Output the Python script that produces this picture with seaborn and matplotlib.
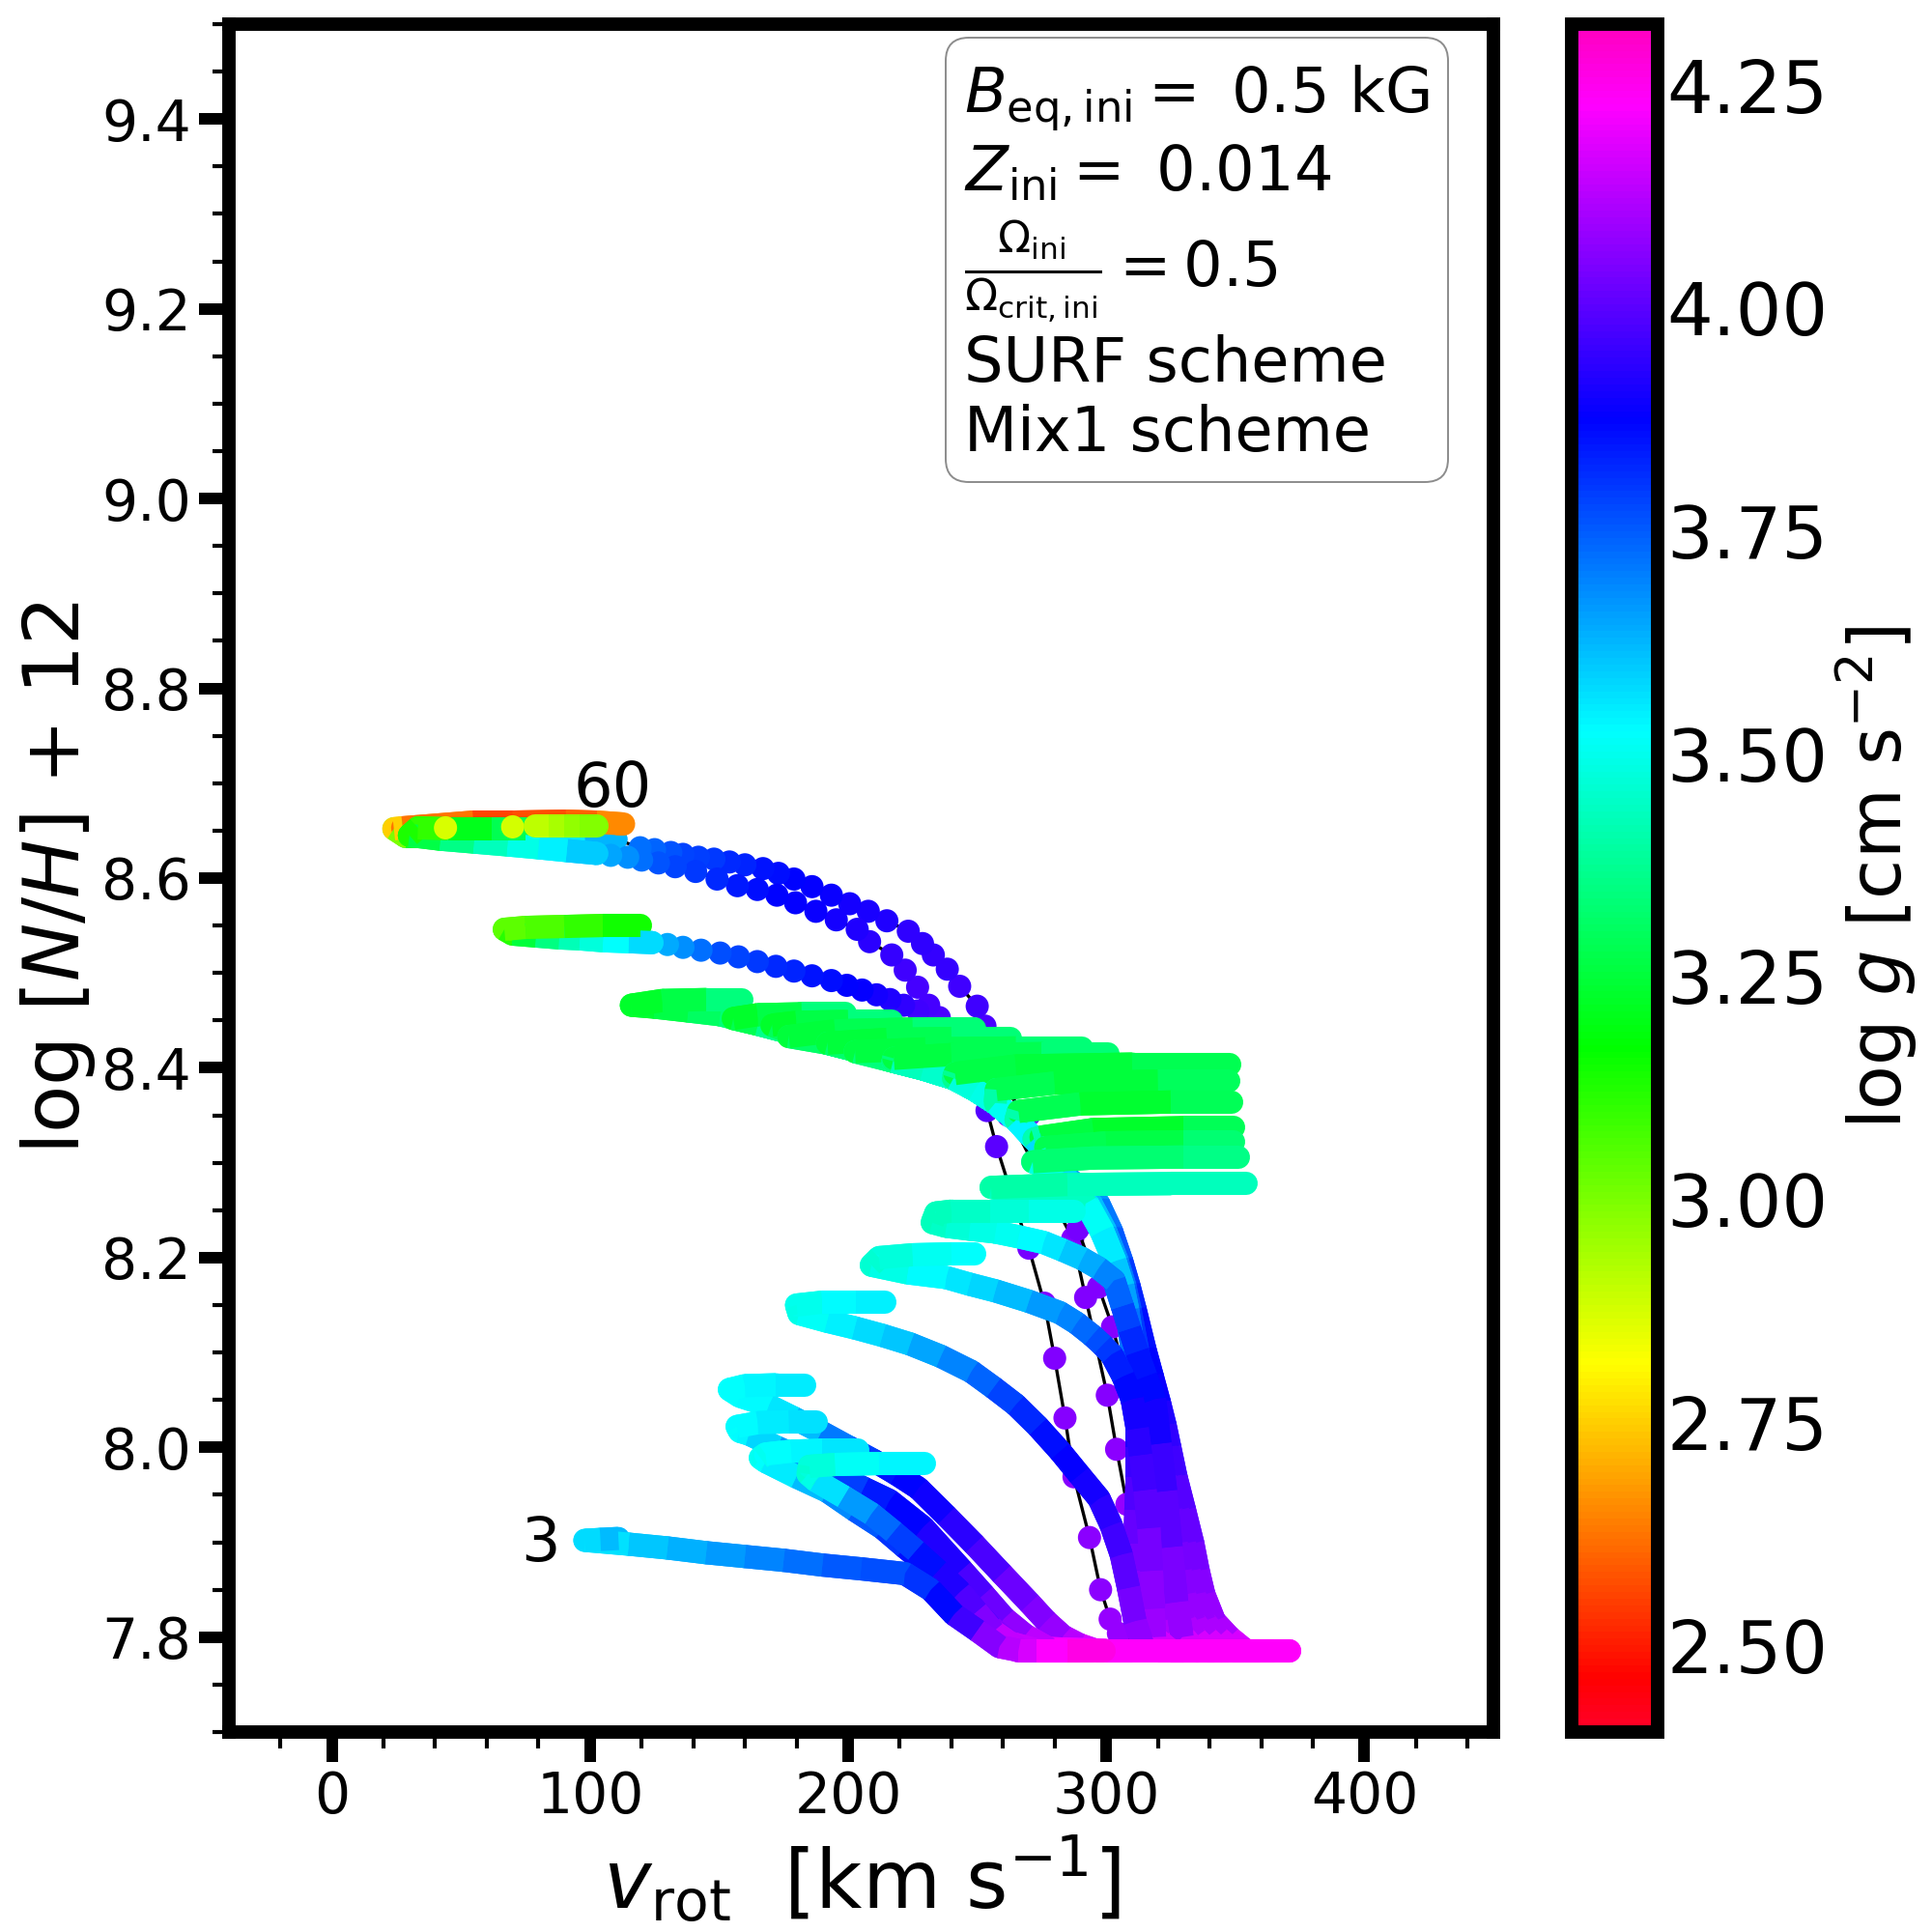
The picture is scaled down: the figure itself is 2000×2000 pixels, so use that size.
import numpy as np
import matplotlib
matplotlib.use("Agg")
import matplotlib.pyplot as plt
import seaborn as sns
from matplotlib.collections import LineCollection
from matplotlib.cm import ScalarMappable
from matplotlib.colors import Normalize
from matplotlib.patches import FancyBboxPatch
from matplotlib.ticker import MultipleLocator

# massive tracks: steep rise off the ZAMS (same N levels), then the long curve
n_steep = [7.786, 7.786, 7.80, 7.817, 7.845, 7.87, 7.899, 7.934, 7.969, 8.0, 8.023, 8.047, 8.075, 8.103, 8.145, 8.17, 8.196, 8.228, 8.257]
g_steep = [4.23, 4.23, 4.12, 4.10, 4.07, 4.05, 4.03, 4.0, 3.98, 3.95, 3.93, 3.9, 3.88, 3.87, 3.84, 3.81, 3.78, 3.73, 3.68]
g_steep_mid = [4.23, 4.23, 4.12, 4.10, 4.07, 4.05, 4.03, 4.0, 3.98, 3.95, 3.93, 3.89, 3.86, 3.82, 3.77, 3.73, 3.69, 3.64, 3.58]
g_steep_late = [4.23, 4.23, 4.12, 4.10, 4.07, 4.05, 4.03, 4.0, 3.97, 3.94, 3.9, 3.85, 3.8, 3.75, 3.68, 3.63, 3.58, 3.53, 3.5]
v_a_steep = [371, 354, 347.7, 341.9, 337.8, 335.6, 333.5, 330.3, 327, 324.6, 322.8, 320.6, 317.8, 315, 311.2, 308.8, 306, 302, 297]
v_c_steep = [365.1, 349.1, 343.3, 337.9, 334, 332.1, 330.3, 327.6, 324.9, 322.8, 321.3, 319.4, 316.9, 314.3, 310.7, 308.4, 305.6, 301.4, 296.3]
v_e_steep = [359.3, 344.3, 338.9, 333.9, 330.2, 328.6, 327.1, 324.9, 322.7, 321, 319.8, 318.2, 316, 313.6, 310.2, 308, 305.2, 300.9, 295.6]
v_g_steep = [353.4, 339.4, 334.5, 330, 326.3, 325.1, 323.9, 322.2, 320.6, 319.2, 318.2, 316.9, 315, 312.9, 309.8, 307.6, 304.7, 300.3, 294.9]
v_u2_steep = [347.6, 334.6, 330.2, 326, 322.5, 321.6, 320.6, 319.6, 318.4, 317.4, 316.6, 315.7, 314.1, 312.1, 309.2, 307.2, 304.3, 299.7, 294.1]
v_u4_steep = [341.7, 329.7, 325.8, 322, 318.7, 318.1, 317.4, 316.9, 316.3, 315.6, 315.1, 314.4, 313.1, 311.4, 308.7, 306.8, 303.9, 299.1, 293.4]
v_u6_steep = [335.9, 324.9, 321.4, 318, 314.9, 314.6, 314.2, 314.2, 314.1, 313.8, 313.5, 313.2, 312.2, 310.7, 308.3, 306.4, 303.4, 298.6, 292.7]
v_h8_steep = [330, 320, 317, 314, 311, 311, 311, 311.5, 312, 312, 312, 312, 311.2, 310, 308, 306, 303, 298, 292]

v_curve = [283, 278, 272, 265, 257, 249, 240.8, 229, 217.4, 205, 192, 179, 165, 150.4, 138, 125]
n_curve = [8.289, 8.307, 8.325, 8.345, 8.363, 8.377, 8.389, 8.399, 8.407, 8.417, 8.426, 8.436, 8.446, 8.456, 8.46, 8.464]
g_curve = [3.65, 3.6, 3.55, 3.52, 3.5, 3.48, 3.47, 3.44, 3.42, 3.4, 3.39, 3.38, 3.35, 3.32, 3.29, 3.25]

# the hooks at the end of each massive track
v_a_hook = [116, 128, 145, 159]
n_a_hook = [8.466, 8.471, 8.472, 8.472]
g_a_hook = [3.22, 3.24, 3.3, 3.38]
v_b_hook = [155.5, 165, 182, 199]
n_b_hook = [8.452, 8.456, 8.457, 8.457]
g_b_hook = [3.22, 3.24, 3.3, 3.38]
v_c_hook = [170.5, 180, 200, 217]
n_c_hook = [8.445, 8.448, 8.449, 8.449]
g_c_hook = [3.22, 3.24, 3.3, 3.38]
v_d_hook = [177, 195, 225, 249]
n_d_hook = [8.433, 8.439, 8.441, 8.441]
g_d_hook = [3.24, 3.26, 3.3, 3.37]
v_e_hook = [192, 215, 240, 263]
n_e_hook = [8.426, 8.43, 8.431, 8.431]
g_e_hook = [3.24, 3.26, 3.3, 3.37]
v_f_hook = [202.7, 230, 265, 290.6]
n_f_hook = [8.417, 8.42, 8.421, 8.421]
g_f_hook = [3.26, 3.26, 3.3, 3.37]
v_g_hook = [217.7, 240, 275, 300.6]
n_g_hook = [8.41, 8.414, 8.415, 8.415]
g_g_hook = [3.26, 3.26, 3.3, 3.37]
v_u0_hook = [248, 265, 285, 300]
n_u0_hook = [8.386, 8.39, 8.39, 8.39]
g_u0_hook = [3.28, 3.26, 3.26, 3.3]
v_u1_hook = [241.4, 265, 310, 347.8]
n_u1_hook = [8.394, 8.402, 8.404, 8.404]
g_u1_hook = [3.28, 3.26, 3.24, 3.33]
v_u2_hook = [257.4, 280, 320, 347.4]
n_u2_hook = [8.377, 8.384, 8.386, 8.386]
g_u2_hook = [3.3, 3.26, 3.24, 3.36]
v_u3_hook = [266, 290, 325, 348.7]
n_u3_hook = [8.354, 8.362, 8.364, 8.364]
g_u3_hook = [3.3, 3.26, 3.22, 3.36]
v_u4_hook = [274.7, 295, 330, 349.3]
n_u4_hook = [8.327, 8.335, 8.337, 8.337]
g_u4_hook = [3.28, 3.24, 3.22, 3.36]
v_u5_hook = [276.5, 300, 330, 349.3]
n_u5_hook = [8.316, 8.321, 8.322, 8.322]
g_u5_hook = [3.3, 3.27, 3.27, 3.38]
v_u6_hook = [271.5, 295, 330, 351.2]
n_u6_hook = [8.301, 8.305, 8.306, 8.306]
g_u6_hook = [3.33, 3.32, 3.33, 3.38]
v_h8_hook = [255.4, 285, 325, 354.3]
n_h8_hook = [8.274, 8.277, 8.278, 8.278]
g_h8_hook = [3.38, 3.42, 3.44, 3.42]

# lower mass tracks, read from the end of the hook back to the ZAMS
v_h7 = [287.5, 270, 255, 240, 234, 232.6, 238, 247, 257, 266, 275.7, 283, 290.6, 297, 303, 306.2, 309, 311.9, 315.3, 318.7, 320.8, 323, 325.1, 327.3, 329.4, 335, 345]
n_h7 = [8.249, 8.249, 8.249, 8.249, 8.247, 8.237, 8.233, 8.23, 8.227, 8.222, 8.216, 8.208, 8.199, 8.189, 8.176, 8.149, 8.125, 8.101, 8.075, 8.051, 8.004, 7.954, 7.895, 7.837, 7.80, 7.786, 7.786]
g_h7 = [3.5, 3.48, 3.46, 3.44, 3.43, 3.44, 3.46, 3.48, 3.5, 3.52, 3.54, 3.58, 3.62, 3.66, 3.72, 3.76, 3.8, 3.84, 3.86, 3.87, 3.93, 3.98, 4.02, 4.07, 4.1, 4.23, 4.23]
v_h6 = [248.9, 240, 225, 212, 209, 223, 238, 247, 257, 270, 282, 288.5, 294.5, 298.5, 302, 306.5, 310, 312, 313.3, 315, 316.5, 317.5, 318.2, 318.7, 325, 335]
n_h6 = [8.204, 8.204, 8.203, 8.2, 8.192, 8.184, 8.179, 8.172, 8.165, 8.154, 8.142, 8.131, 8.118, 8.108, 8.098, 8.075, 8.051, 8.02, 7.992, 7.955, 7.915, 7.87, 7.83, 7.80, 7.786, 7.786]
g_h6 = [3.53, 3.52, 3.49, 3.46, 3.47, 3.51, 3.55, 3.57, 3.6, 3.64, 3.68, 3.71, 3.75, 3.78, 3.82, 3.85, 3.88, 3.92, 3.95, 3.98, 4.02, 4.05, 4.08, 4.1, 4.23, 4.23]
v_h5 = [214.4, 203, 190, 180, 181, 191.8, 202.5, 213.3, 224, 235.9, 247.7, 256.3, 264.9, 273.5, 282.1, 289.6, 297.2, 301.9, 305.8, 308.6, 311.1, 314.4, 320, 330]
n_h5 = [8.153, 8.153, 8.153, 8.15, 8.141, 8.133, 8.126, 8.118, 8.109, 8.096, 8.08, 8.063, 8.045, 8.022, 7.996, 7.971, 7.946, 7.918, 7.887, 7.852, 7.817, 7.79, 7.786, 7.786]
g_h5 = [3.55, 3.54, 3.52, 3.48, 3.5, 3.53, 3.56, 3.59, 3.62, 3.67, 3.72, 3.76, 3.8, 3.84, 3.87, 3.89, 3.92, 3.95, 3.98, 4.02, 4.05, 4.1, 4.23, 4.23]
v_h1 = [183, 172, 160, 154, 158, 169.2, 178.9, 189.6, 200.4, 210, 218.7, 227.2, 238, 248.8, 259.5, 270.3, 276.7, 283.2, 289.6, 296.1, 310]
n_h1 = [8.066, 8.066, 8.065, 8.061, 8.054, 8.044, 8.031, 8.016, 8.0, 7.986, 7.972, 7.957, 7.928, 7.898, 7.867, 7.836, 7.817, 7.801, 7.792, 7.786, 7.786]
g_h1 = [3.56, 3.55, 3.53, 3.52, 3.52, 3.54, 3.58, 3.66, 3.75, 3.83, 3.87, 3.88, 3.91, 3.95, 4.0, 4.04, 4.07, 4.1, 4.15, 4.2, 4.25]
v_h2 = [187.5, 177, 165, 157, 158, 161.6, 172.4, 184.2, 194.4, 206, 216, 229, 244, 252.5, 260.5, 268.6, 277.8, 300]
n_h2 = [8.027, 8.027, 8.026, 8.022, 8.017, 8.014, 8.0, 7.986, 7.973, 7.957, 7.944, 7.916, 7.871, 7.845, 7.82, 7.802, 7.788, 7.786]
g_h2 = [3.58, 3.56, 3.54, 3.52, 3.53, 3.55, 3.62, 3.7, 3.76, 3.82, 3.86, 3.89, 3.95, 4.0, 4.05, 4.1, 4.17, 4.25]
v_h3 = [203.6, 190, 178, 168, 166, 168.1, 179.9, 191.8, 202.5, 213.3, 221.9, 230.5, 239.1, 247.7, 255.2, 262.7, 273.5, 295]
n_h3 = [7.997, 7.997, 7.996, 7.993, 7.989, 7.985, 7.969, 7.954, 7.934, 7.915, 7.895, 7.876, 7.854, 7.833, 7.811, 7.794, 7.786, 7.786]
g_h3 = [3.57, 3.55, 3.53, 3.51, 3.51, 3.53, 3.58, 3.65, 3.72, 3.78, 3.83, 3.88, 3.92, 3.96, 4.02, 4.1, 4.2, 4.25]
v_h4 = [229.4, 212, 195, 185, 184.5, 187.5, 198.2, 209, 217.6, 226.2, 234.8, 243.4, 249.8, 256.3, 267, 290]
n_h4 = [7.983, 7.983, 7.982, 7.98, 7.972, 7.965, 7.948, 7.93, 7.911, 7.891, 7.87, 7.848, 7.827, 7.806, 7.786, 7.786]
g_h4 = [3.55, 3.53, 3.5, 3.45, 3.47, 3.52, 3.62, 3.7, 3.76, 3.82, 3.89, 3.95, 4.02, 4.08, 4.2, 4.25]
v_m3 = [111, 104, 98, 115, 130, 145, 160, 175, 190, 205, 222, 232, 241, 250, 258.6, 266, 273, 285, 299]
n_m3 = [7.904, 7.903, 7.902, 7.898, 7.894, 7.889, 7.885, 7.881, 7.876, 7.872, 7.867, 7.85, 7.824, 7.807, 7.79, 7.786, 7.786, 7.786, 7.786]
g_m3 = [3.64, 3.6, 3.55, 3.58, 3.62, 3.65, 3.68, 3.71, 3.74, 3.76, 3.78, 3.83, 3.9, 4.02, 4.1, 4.15, 4.2, 4.25, 4.27]
v_zams = [300, 330, 371]
n_zams = [7.786, 7.786, 7.786]
g_zams = [4.23, 4.23, 4.23]

# the three most massive tracks, spaced out enough to show single models
v_p1_dots = [316, 304.7, 301.5, 297.8, 293.5, 287.5, 284, 280, 276, 270, 257.5, 253.8, 253, 250, 243.2,
             238.4, 233, 228.8, 223.3, 215, 207.8, 200.6, 193.5, 186, 179, 173, 167, 160, 154, 148, 142, 136, 131.3, 125, 119.4, 110]
n_p1_dots = [7.79, 7.804, 7.819, 7.85, 7.905, 7.969, 8.031, 8.094, 8.152, 8.21, 8.317, 8.355, 8.444, 8.465, 8.486,
             8.504, 8.519, 8.531, 8.544, 8.555, 8.565, 8.573, 8.582, 8.591, 8.599, 8.605, 8.61, 8.614, 8.617, 8.62, 8.622, 8.625, 8.627, 8.63, 8.632, 8.641]
g_p1_dots = [4.15, 4.08, 4.08, 4.07, 4.07, 4.06, 4.06, 4.05, 4.05, 4.04, 4.0, 3.99, 3.98, 3.96, 3.96,
             3.95, 3.95, 3.94, 3.94, 3.92, 3.91, 3.9, 3.89, 3.88, 3.87, 3.86, 3.85, 3.83, 3.82, 3.8, 3.79, 3.78, 3.76, 3.74, 3.72, 3.66]
v_p1_band = [110, 98, 86, 75, 65, 55, 45, 36, 28.5, 24, 27.4, 54.8, 70, 90.7, 102.6, 113]
n_p1_band = [8.641, 8.639, 8.638, 8.64, 8.642, 8.642, 8.643, 8.644, 8.644, 8.652, 8.653, 8.659, 8.659, 8.66, 8.659, 8.657]
g_p1_band = [3.66, 3.59, 3.52, 3.46, 3.4, 3.35, 3.3, 3.25, 3.2, 2.8, 2.7, 2.55, 2.56, 2.58, 2.62, 2.68]

v_p2_dots = [320, 316, 312, 308, 304, 300.4, 292, 287, 262, 245, 235.3, 231.2, 226.9, 222.1, 216.9, 208.3, 203.5,
             195.4, 187.5, 179.6, 172.4, 164.8, 157.1, 149.2, 140.9, 133, 126.5, 120, 114.6, 108, 102.6]
n_p2_dots = [7.79, 7.82, 7.88, 7.94, 7.998, 8.055, 8.158, 8.22, 8.35, 8.42, 8.453, 8.466, 8.485, 8.503, 8.519, 8.533, 8.546,
             8.556, 8.565, 8.574, 8.582, 8.588, 8.592, 8.599, 8.607, 8.612, 8.616, 8.619, 8.622, 8.624, 8.626]
g_p2_dots = [4.15, 4.1, 4.09, 4.08, 4.07, 4.06, 4.05, 4.05, 4.02, 4.0, 3.98, 3.97, 3.97, 3.96, 3.95, 3.93, 3.92,
             3.9, 3.89, 3.88, 3.87, 3.86, 3.84, 3.82, 3.8, 3.78, 3.76, 3.72, 3.68, 3.65, 3.62]
v_p2_band = [102.6, 91, 80, 68, 55, 42, 30, 33.3, 45, 62, 75]
n_p2_band = [8.626, 8.629, 8.632, 8.635, 8.638, 8.641, 8.645, 8.653, 8.652, 8.652, 8.652]
g_p2_band = [3.62, 3.57, 3.52, 3.46, 3.4, 3.32, 3.22, 3.05, 3.15, 3.27, 3.3]
v_end_dots = [44, 70]
n_end_dots = [8.653, 8.654]
g_end_dots = [2.87, 2.88]
v_end_band = [78.7, 84, 90, 96, 102.6]
n_end_band = [8.655, 8.655, 8.655, 8.655, 8.655]
g_end_band = [2.9, 2.92, 2.95, 2.98, 3.0]

v_p3_dots = [322, 320, 318, 315, 310, 306, 302.4, 297, 289, 270, 245, 227, 221.5, 216.2, 211, 205.4, 199.5, 193.5, 186, 179, 172, 164.8, 157.5, 150.4, 143, 136, 130, 124]
n_p3_dots = [7.79, 7.85, 7.92, 7.98, 8.05, 8.09, 8.127, 8.169, 8.23, 8.35, 8.42, 8.46, 8.466, 8.472, 8.477, 8.482, 8.487, 8.492, 8.497, 8.502, 8.507, 8.512, 8.517, 8.521, 8.524, 8.527, 8.53, 8.532]
g_p3_dots = [4.15, 4.12, 4.1, 4.09, 4.08, 4.07, 4.06, 4.05, 4.04, 4.02, 4.0, 3.96, 3.94, 3.92, 3.9, 3.88, 3.87, 3.86, 3.85, 3.83, 3.82, 3.8, 3.78, 3.77, 3.72, 3.68, 3.64, 3.6]
v_p3_band = [124, 115, 105, 96, 88, 79, 70, 66.8, 75, 90, 105, 119.4]
n_p3_band = [8.532, 8.533, 8.534, 8.536, 8.537, 8.539, 8.541, 8.546, 8.548, 8.549, 8.55, 8.55]
g_p3_band = [3.6, 3.55, 3.5, 3.45, 3.4, 3.3, 3.2, 3.03, 3.05, 3.08, 3.12, 3.17]

GMIN, GMAX = 2.4025, 4.3185
CMAP = "gist_rainbow"
norm = Normalize(GMIN, GMAX)

sns.set_style("ticks", {"axes.edgecolor": "k", "text.color": "k", "xtick.color": "k",
                        "ytick.color": "k", "axes.labelcolor": "k"})
fig = plt.figure(figsize=(20, 20), dpi=100)
ax = fig.add_axes([237 / 2000, 207 / 2000, 1309 / 2000, 1768 / 2000])
cax = fig.add_axes([1627 / 2000, 207 / 2000, 89 / 2000, 1768 / 2000])

zorder = [3]


def band(v, n, g):
    # thick track, each piece coloured by log g
    pts = np.column_stack([v, n])
    segs = np.stack([pts[:-1], pts[1:]], axis=1)
    g = np.asarray(g, dtype=float)
    # round pass fills the corners and ends, butt pass on top hides the scallops
    for cap in ("round", "butt"):
        lc = LineCollection(segs, cmap=CMAP, norm=norm, linewidths=17.3, capstyle=cap, joinstyle="round")
        lc.set_array((g[:-1] + g[1:]) / 2)
        lc.set_zorder(zorder[0])
        ax.add_collection(lc)
    zorder[0] += 1


def dots(v, n, g):
    sns.scatterplot(x=v, y=n, hue=g, palette=CMAP, hue_norm=(GMIN, GMAX), s=298, linewidth=0,
                    legend=False, ax=ax, zorder=zorder[0])
    zorder[0] += 1


def thin(v, n):
    ax.plot(v, n, color="k", lw=2.4, zorder=zorder[0])
    zorder[0] += 1


# most massive first, they end up underneath
thin(v_p1_dots + v_p1_band[:9], n_p1_dots + n_p1_band[:9])
dots(v_p1_dots, n_p1_dots, g_p1_dots)
band(v_p1_band, n_p1_band, g_p1_band)
thin(v_p2_dots, n_p2_dots)
dots(v_p2_dots, n_p2_dots, g_p2_dots)
band(v_p2_band, n_p2_band, g_p2_band)
dots(v_end_dots, n_end_dots, g_end_dots)
band(v_end_band, n_end_band, g_end_band)
thin(v_p3_dots, n_p3_dots)
dots(v_p3_dots, n_p3_dots, g_p3_dots)
band(v_p3_band, n_p3_band, g_p3_band)

upper_tracks = [
    (v_a_steep, g_steep, v_a_hook, n_a_hook, g_a_hook),
    ([], [], v_b_hook, n_b_hook, g_b_hook),
    (v_c_steep, g_steep, v_c_hook, n_c_hook, g_c_hook),
    ([], [], v_d_hook, n_d_hook, g_d_hook),
    (v_e_steep, g_steep, v_e_hook, n_e_hook, g_e_hook),
    ([], [], v_f_hook, n_f_hook, g_f_hook),
    (v_g_steep, g_steep, v_g_hook, n_g_hook, g_g_hook),
    ([], [], v_u0_hook, n_u0_hook, g_u0_hook),
    ([], [], v_u1_hook, n_u1_hook, g_u1_hook),
    (v_u2_steep, g_steep_mid, v_u2_hook, n_u2_hook, g_u2_hook),
    ([], [], v_u3_hook, n_u3_hook, g_u3_hook),
    (v_u4_steep, g_steep_mid, v_u4_hook, n_u4_hook, g_u4_hook),
    ([], [], v_u5_hook, n_u5_hook, g_u5_hook),
    (v_u6_steep, g_steep_late, v_u6_hook, n_u6_hook, g_u6_hook),
    (v_h8_steep, g_steep_late, v_h8_hook, n_h8_hook, g_h8_hook),
]
for v_s, g_s, v_h, n_h, g_h in upper_tracks:
    keep = [i for i, x in enumerate(n_curve) if x < n_h[0]]
    band(v_s + [v_curve[i] for i in keep] + v_h,
         (n_steep if v_s else []) + [n_curve[i] for i in keep] + n_h,
         g_s + [g_curve[i] for i in keep] + g_h)

for v_t, n_t, g_t in [(v_h7, n_h7, g_h7), (v_h6, n_h6, g_h6), (v_h5, n_h5, g_h5), (v_h1, n_h1, g_h1),
                      (v_h2, n_h2, g_h2), (v_h3, n_h3, g_h3), (v_h4, n_h4, g_h4)]:
    band(v_t[::-1], n_t[::-1], g_t[::-1])
band(v_zams, n_zams, g_zams)
band(v_m3[::-1], n_m3[::-1], g_m3[::-1])

ax.set_xlim(-39.9, 450)
ax.set_ylim(7.7, 9.5)
ax.xaxis.set_major_locator(MultipleLocator(100))
ax.xaxis.set_minor_locator(MultipleLocator(20))
ax.yaxis.set_major_locator(MultipleLocator(0.2))
ax.yaxis.set_minor_locator(MultipleLocator(0.05))
ax.tick_params(which="major", direction="out", length=22.3, width=8.6, labelsize=42, pad=5.8)
ax.tick_params(which="minor", direction="out", length=12.2, width=3)
for s in ax.spines.values():
    s.set_linewidth(10)
    s.set_visible(True)
ax.set_xlabel(r"$v_{\rm rot}$  [km s$^{-1}$]", fontsize=60)
ax.set_ylabel(r"log [$N/H$] + 12", fontsize=58)
ax.xaxis.set_label_coords(0.5, -0.0595)
ax.yaxis.set_label_coords(-0.104, 0.5)

fig.text(559 / 2000, 1 - 1598 / 2000, "3", fontsize=46, ha="center", va="center")
fig.text(634 / 2000, 1 - 817 / 2000, "60", fontsize=46, ha="center", va="center")

fig.add_artist(FancyBboxPatch((979 / 2000, 1 - 499 / 2000), 520 / 2000, 460 / 2000,
                              boxstyle="round,pad=0,rounding_size=0.012", transform=fig.transFigure,
                              fc="white", ec="0.55", lw=1.4))
box_lines = [r"$B_{\rm eq,ini} =$ 0.5 kG", r"$Z_{\rm ini} =$ 0.014",
             r"$\frac{\Omega_{\rm ini}}{\Omega_{\rm crit,ini}} = 0.5$", "SURF scheme", "Mix1 scheme"]
box_base = [117, 197, 298, 395, 467]
for txt, yb in zip(box_lines, box_base):
    fig.text(998 / 2000, 1 - yb / 2000, txt, fontsize=46, va="baseline", ha="left")

cb = fig.colorbar(ScalarMappable(norm=norm, cmap=CMAP), cax=cax)
cb.set_ticks([2.5, 2.75, 3.0, 3.25, 3.5, 3.75, 4.0, 4.25])
cb.set_ticklabels(["2.50", "2.75", "3.00", "3.25", "3.50", "3.75", "4.00", "4.25"])
cb.ax.tick_params(length=0, labelsize=54, pad=7)
cb.outline.set_linewidth(10)
cb.set_label(r"log $g$ [cm s$^{-2}$]", fontsize=54)
cax.yaxis.set_label_coords(3.055, 0.5)

fig.savefig("out.png", dpi=100)
